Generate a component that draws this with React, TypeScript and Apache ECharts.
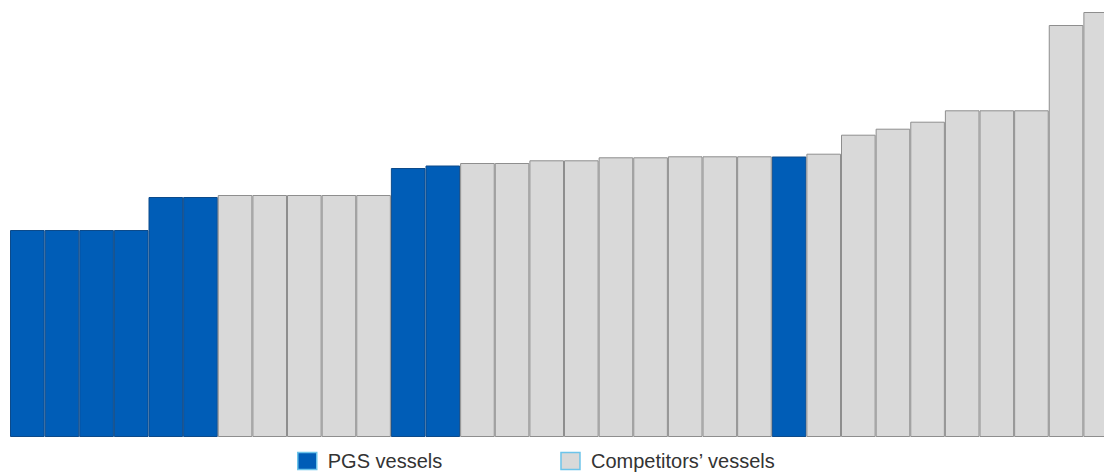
import React, { useEffect, useRef } from "react";
import * as echarts from "echarts";

const categories: string[] = Array.from({ length: 32 }, (_, i) => `V${i + 1}`);
const vesselType: string[] = [
  "PGS", "PGS", "PGS", "PGS", "PGS", "PGS",
  "C", "C", "C", "C", "C",
  "PGS", "PGS",
  "C", "C", "C", "C", "C", "C", "C", "C", "C",
  "PGS",
  "C", "C", "C", "C", "C", "C", "C", "C", "C",
];
const values: number[] = [
  207, 207, 207, 207, 240, 240,
  242, 242, 242, 242, 242,
  269, 271.5,
  274, 274, 276.7, 276.7, 279.7, 279.7, 280.7, 280.7, 280.7,
  280.5,
  283.3, 302.3, 308.3, 315.3, 326.7, 326.7, 326.7, 412, 425,
];
const legendNames: string[] = ["PGS vessels", "Competitors\u2019 vessels"];

export default function App() {
  const ref = useRef<HTMLDivElement>(null);
  useEffect(() => {
    if (!ref.current) return;
    const chart = echarts.init(ref.current, undefined, { renderer: "svg" });
    const pgs = values.map((v, i) => (vesselType[i] === "PGS" ? v : "-"));
    const comp = values.map((v, i) => (vesselType[i] === "C" ? v : "-"));
    chart.setOption({
      animation: false,
      grid: { left: 10, right: 0, top: 0, bottom: 38, containLabel: false },
      xAxis: {
        type: "category",
        data: categories,
        show: false,
      },
      yAxis: { type: "value", min: 0, max: 437, show: false },
      legend: {
        data: legendNames,
        left: 297,
        top: 451,
        padding: 0,
        itemWidth: 19,
        itemHeight: 17,
        itemGap: 118,
        icon: "rect",
        itemStyle: { borderColor: "#6cc4ea", borderWidth: 1.5 },
        textStyle: {
          fontSize: 20,
          color: "#333333",
          fontFamily: "Liberation Sans, Arial, sans-serif",
          padding: [0, 0, 0, 6],
        },
      },
      series: [
        {
          name: legendNames[0],
          type: "bar",
          data: pgs,
          barCategoryGap: 0,
          barGap: "-100%",
          itemStyle: { color: "#005db7", borderColor: "#0c4a8a", borderWidth: 1 },
        },
        {
          name: legendNames[1],
          type: "bar",
          data: comp,
          barCategoryGap: 0,
          barGap: "-100%",
          itemStyle: { color: "#d9d9d9", borderColor: "#8e8e8e", borderWidth: 1 },
        },
      ],
    });
    return () => chart.dispose();
  }, []);
  return (
    <div
      style={{ position: "fixed", left: 0, top: 0, width: 1104, height: 475, overflow: "hidden", background: "#fff" }}
    >
      <div ref={ref} style={{ width: 1118, height: 475 }} />
    </div>
  );
}
